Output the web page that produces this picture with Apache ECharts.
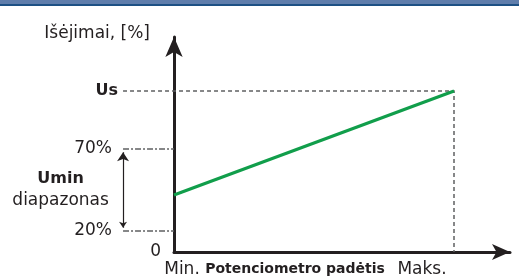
<!DOCTYPE html>
<html>
<head>
<meta charset="utf-8">
<script src="https://cdn.jsdelivr.net/npm/echarts@6/dist/echarts.min.js"></script>
<style>
  html, body { margin: 0; padding: 0; background: #fff; }
  #chart { width: 519px; height: 276px; }
</style>
</head>
<body>
<div id="chart"></div>
<script>
// schematic levels on the output axis (0..100 = axis length)
const levelValues = [0, 9.8, 47.9, 74.9]
const levelLabels = ['0', '20%', '70%', 'Us']
// potentiometer position: Min. = 0, Maks. = 100
const posValues = [0, 100]
const posLabels = ['Min.', 'Maks.']
// output line from Min. to Maks.
const lineX = [0, 100]
const lineY = [26.5, 74.9]
// Umin range marker
const rangeX = -18.2
const rangeLow = 9.8
const rangeHigh = 47.9
const usLevel = 74.9

const dark = '#231f20'
const grey = '#5f6062'
const font = 'DejaVu Sans'

const chart = echarts.init(document.getElementById('chart'))

const option = {
  animation: false,
  graphic: [
    { type: 'rect', shape: { x: 0, y: 0, width: 519, height: 4 }, style: { fill: '#5f7dab' } },
    { type: 'rect', shape: { x: 0, y: 4, width: 519, height: 2 }, style: { fill: '#1d5084' } }
  ],
  grid: { left: 174, right: 9, top: 37, bottom: 24, outerBoundsMode: 'none', containLabel: false },
  xAxis: {
    type: 'value',
    min: 0,
    max: 120,
    splitLine: { show: false },
    axisTick: { show: false },
    axisLine: {
      lineStyle: { color: dark, width: 3 },
      symbol: ['none', 'arrow'],
      symbolSize: [12, 18]
    },
    axisLabel: {
      customValues: posValues,
      margin: 9,
      formatter: v => v === 0 ? '{a|' + posLabels[0] + '}' : '{b|' + posLabels[1] + '}',
      rich: {
        a: { fontFamily: font, fontSize: 17, color: dark, padding: [0, 0, 0, 16] },
        b: { fontFamily: font, fontSize: 17, color: dark, padding: [0, 64, 0, 0] }
      }
    },
    name: 'Potenciometro padėtis',
    nameLocation: 'middle',
    nameGap: 10,
    nameMoveOverlap: false,
    nameTextStyle: {
      fontFamily: font, fontSize: 14, fontWeight: 'bold', color: dark,
      verticalAlign: 'top', padding: [0, 94, 0, 0]
    }
  },
  yAxis: {
    type: 'value',
    min: 0,
    max: 100,
    splitLine: { show: false },
    axisTick: { show: false },
    axisLine: {
      lineStyle: { color: dark, width: 3 },
      symbol: ['none', 'arrow'],
      symbolSize: [13, 20]
    },
    axisLabel: {
      customValues: levelValues,
      margin: 13,
      formatter: v => {
        const i = levelValues.indexOf(v)
        if (i === 0) return '{z|' + levelLabels[i] + '}'
        if (i === 3) return '{u|' + levelLabels[i] + '}'
        return '{p|' + levelLabels[i] + '}'
      },
      rich: {
        z: { fontFamily: font, fontSize: 17, color: dark },
        p: { fontFamily: font, fontSize: 17, color: dark, padding: [0, 49, 0, 0] },
        u: { fontFamily: font, fontSize: 16, fontWeight: 'bold', color: dark, padding: [0, 43, 0, 0] }
      }
    },
    name: 'Išėjimai, [%]',
    nameLocation: 'end',
    nameGap: 3,
    nameTextStyle: {
      fontFamily: font, fontSize: 17, color: dark,
      align: 'right', verticalAlign: 'middle', padding: [0, 24, 0, 0]
    }
  },
  series: [
    // Us dashed guide
    {
      type: 'lines',
      coordinateSystem: 'cartesian2d',
      clip: false,
      polyline: true,
      symbol: 'none',
      lineStyle: { color: grey, width: 1.5, type: [4, 3], opacity: 1 },
      data: [{ coords: [[rangeX, usLevel], [lineX[1], usLevel], [lineX[1], 0]] }],
      z: 1
    },
    // 70% / 20% dash-dot guides
    {
      type: 'lines',
      coordinateSystem: 'cartesian2d',
      clip: false,
      symbol: 'none',
      lineStyle: { color: grey, width: 1.5, type: [6, 2, 2, 2], opacity: 1 },
      data: [
        { coords: [[rangeX, rangeHigh], [0, rangeHigh]] },
        { coords: [[rangeX, rangeLow], [0, rangeLow]] }
      ],
      z: 1
    },
    // Umin double arrow
    {
      type: 'lines',
      coordinateSystem: 'cartesian2d',
      clip: false,
      symbol: ['arrow', 'arrow'],
      symbolSize: [6, 9],
      lineStyle: { color: dark, width: 1.2, opacity: 1 },
      data: [{ coords: [[rangeX, rangeLow + 1.5], [rangeX, rangeHigh - 1.5]] }]
    },
    // output line
    {
      type: 'line',
      symbol: 'none',
      lineStyle: { color: '#119e4b', width: 3.2 },
      data: lineX.map((x, i) => [x, lineY[i]]),
      z: 3
    },
    // Umin caption
    {
      type: 'scatter',
      clip: false,
      symbolSize: 0,
      silent: true,
      itemStyle: { opacity: 1 },
      data: [[-40.5, 28.9]],
      label: {
        show: true,
        position: [0, 0],
        align: 'center',
        verticalAlign: 'middle',
        formatter: '{b|Umin}\n{r|diapazonas}',
        rich: {
          b: { fontFamily: font, fontSize: 16, fontWeight: 'bold', color: dark, lineHeight: 22 },
          r: { fontFamily: font, fontSize: 17, color: dark, lineHeight: 22 }
        }
      }
    }
  ]
}

chart.setOption(option)
</script>
</body>
</html>
